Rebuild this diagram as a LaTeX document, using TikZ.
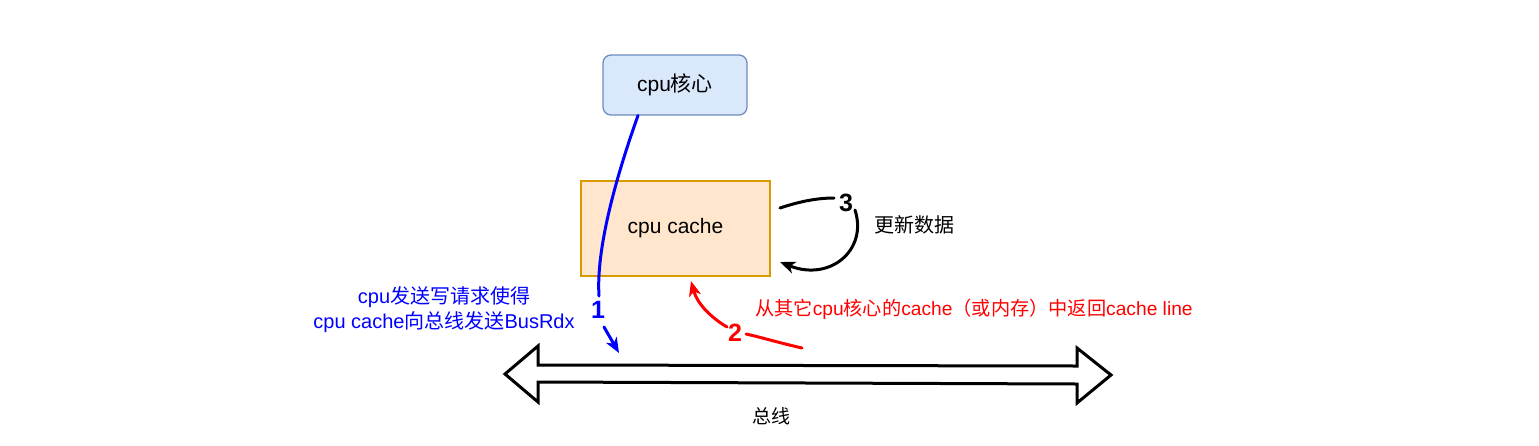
\documentclass[tikz,border=0pt]{standalone}
\usepackage{fontspec}
\setmainfont{Liberation Sans}
\newfontfamily\cjk{Noto Sans CJK SC}
\usetikzlibrary{arrows.meta}
\newcommand{\zh}[1]{{\cjk #1}}
\definecolor{corefill}{HTML}{DAE8FC}
\definecolor{coredraw}{HTML}{6C8EBF}
\definecolor{cachefill}{HTML}{FFE6CC}
\definecolor{cachedraw}{HTML}{D79B00}
\definecolor{myblue}{HTML}{0000FF}
\definecolor{myred}{HTML}{FF0000}
\begin{document}
\begin{tikzpicture}[x=1pt,y=-1pt,
  boxtext/.style={font=\fontsize{21}{25}\selectfont, inner sep=0pt},
  corebox/.style={boxtext, draw=coredraw, fill=corefill, line width=1.3pt, rounded corners=8pt, minimum width=144pt, minimum height=60pt},
  cachebox/.style={boxtext, draw=cachedraw, fill=cachefill, line width=1.3pt, minimum width=189pt, minimum height=95pt},
  numlabel/.style={font=\fontsize{25}{28}\selectfont\bfseries, inner sep=0pt},
  note/.style={font=\fontsize{20}{25}\selectfont, inner sep=0pt},
  conn/.style={line width=3pt, line cap=round},
  tip/.style={-{Stealth[length=15pt,width=12pt,inset=4pt]}},
  bus/.style={draw=black, fill=white, line width=3pt, line join=miter}
]
\useasboundingbox (0,0) rectangle (1539,445);

% bus (double arrow)
\draw[bus] (505,374) -- (538,346) -- (538,365) -- (1077,366) -- (1077,348) -- (1111,375)
  -- (1077,403) -- (1077,384) -- (538,382) -- (538,402) -- cycle;
\node[note, font=\fontsize{19}{23}\selectfont] (buslabel) at (771,416) {\zh{总线}};

% nodes
\node[corebox] (core) at (675,85) {cpu\zh{核心}};
\node[cachebox] (cache) at (675.5,228.5) {cpu cache};

% labels
\node[numlabel, text=myblue] (n1) at (598,310) {1};
\node[numlabel, text=myred] (n2) at (735,333) {2};
\node[numlabel, text=black] (n3) at (846,203) {3};

\node[note, text=myblue, align=center, font=\fontsize{20}{25}\selectfont] (bluetext) at (444,309.5)
  {cpu\zh{发送写请求使得}\\cpu cache\zh{向总线发送}BusRdx};
\node[note, text=myred, anchor=west, font=\fontsize{19.2}{23}\selectfont] (redtext) at (755,309)
  {\zh{从其它}cpu\zh{核心的}cache\zh{（或内存）中返回}cache line};
\node[note, font=\fontsize{20}{24}\selectfont] (update) at (914,225) {\zh{更新数据}};

% coordinates for free ends
\coordinate (b0) at (638,115.5);
\coordinate (btip) at (619,353);
\coordinate (r0) at (802,348);
\coordinate (rtip) at (691,281);
\coordinate (k0) at (780,208);
\coordinate (ktip) at (780,262);

% blue connector
\draw[conn, myblue] (b0) .. controls (615,180) and (596,250) .. (599,296);
\draw[conn, myblue, tip] (604,327) -- (btip);

% red connector
\draw[conn, myred] (r0) .. controls (780,343) and (760,337) .. (746,334);
\draw[conn, myred, tip] (727,327) .. controls (710,317) and (697,303) .. (rtip);

% black connector
\draw[conn, black] (k0) .. controls (798,202) and (816,198) .. (834,198);
\draw[conn, black, tip] (855,210) .. controls (868,250) and (830,282) .. (ktip);
\end{tikzpicture}
\end{document}
